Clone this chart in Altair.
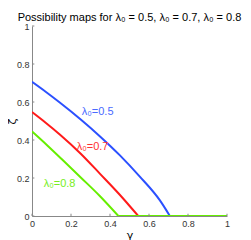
import altair as alt
import pandas as pd

# curve samples (gamma, zeta)
blue_x = [0.0, 0.07, 0.144, 0.25, 0.349, 0.451, 0.554, 0.656, 0.707]
blue_y = [0.706, 0.654, 0.596, 0.508, 0.419, 0.319, 0.206, 0.082, 0.0]
red_x = [0.0, 0.07, 0.144, 0.25, 0.349, 0.45, 0.545]
red_y = [0.547, 0.491, 0.428, 0.328, 0.222, 0.112, 0.0]
green_x = [0.0, 0.08, 0.16, 0.25, 0.349, 0.443]
green_y = [0.445, 0.37, 0.292, 0.203, 0.104, 0.0]
baseline_x = [0.443, 1.0]
baseline_y = [0.0, 0.0]

labels = ["λ₀=0.5", "λ₀=0.7", "λ₀=0.8"]
label_x = [0.255, 0.229, 0.06]
label_y = [0.533, 0.35, 0.155]
colors = ["#2b50ff", "#ff1a1a", "#66ee00"]
label_colors = ["#4a6aff", "#ff3333", "#77ee22"]

tick_values = [0, 0.2, 0.4, 0.6, 0.8, 1]

rows = []
for name, xs_, ys_ in [("0.5", blue_x, blue_y), ("0.7", red_x, red_y),
                       ("0.8", green_x, green_y), ("0.8b", baseline_x, baseline_y)]:
    for i, (x, y) in enumerate(zip(xs_, ys_)):
        rows.append({"series": name, "gamma": x, "zeta": y, "order": i})
df = pd.DataFrame(rows)

color_scale = alt.Scale(domain=["0.5", "0.7", "0.8", "0.8b"],
                        range=[colors[0], colors[1], colors[2], colors[2]])

xs = alt.Scale(domain=[0, 1], nice=False)
ys = alt.Scale(domain=[0, 1], nice=False)

label_expr = "datum.value == 0 ? '0' : datum.value == 1 ? '1' : format(datum.value, '.1f')"

lines = alt.Chart(df).mark_line(strokeWidth=2, clip=True, interpolate="monotone").encode(
    x=alt.X("gamma:Q", scale=xs, title="γ"),
    y=alt.Y("zeta:Q", scale=ys, title="ζ"),
    color=alt.Color("series:N", scale=color_scale, legend=None),
    detail="series:N",
    order="order:Q",
)

ldf = pd.DataFrame({"label": labels, "x": label_x, "y": label_y, "c": label_colors})
text = alt.Chart(ldf).mark_text(align="left", baseline="alphabetic", fontSize=11,
                                font="Liberation Sans").encode(
    x=alt.X("x:Q", scale=xs, title="γ"), y=alt.Y("y:Q", scale=ys, title="ζ"),
    text="label:N", color=alt.Color("c:N", scale=None),
)

tdf = pd.DataFrame({"t": tick_values, "z": [0] * 6, "l": [0.012] * 6})
xticks = alt.Chart(tdf).mark_rule(color="#888888", strokeWidth=1).encode(
    x=alt.X("t:Q", scale=xs, title="γ"), y=alt.Y("z:Q", scale=ys, title="ζ"), y2="l:Q")
yticks = alt.Chart(tdf).mark_rule(color="#888888", strokeWidth=1).encode(
    y=alt.Y("t:Q", scale=ys, title="ζ"), x=alt.X("z:Q", scale=xs, title="γ"), x2="l:Q")

chart = alt.layer(lines, xticks, yticks, text).properties(
    width=195, height=190,
    padding={"left": 24, "top": 18, "right": 16, "bottom": 25},
    autosize=alt.AutoSizeParams(type="none"),
    title=alt.TitleParams("Possibility maps for λ₀ = 0.5, λ₀ = 0.7, λ₀ = 0.8",
                          fontSize=11, fontWeight="normal", font="Liberation Sans",
                          color="#000000", anchor="middle", offset=-1),
).configure_view(strokeWidth=0).configure_axis(
    values=tick_values, grid=False, tickSize=0,
    domainColor="#888888", labelColor="#333333",
    labelFontSize=9, labelFont="Liberation Sans",
    titleFont="DejaVu Sans", titleFontSize=11,
    titleFontWeight="normal", titleColor="#000000",
    labelFlush=False, labelOverlap=False, labelExpr=label_expr,
    labelPadding=3,
).configure_axisX(titlePadding=1).configure_axisY(titleX=-15)

chart.save("out.html", embed_options={"renderer": "svg", "actions": False})
